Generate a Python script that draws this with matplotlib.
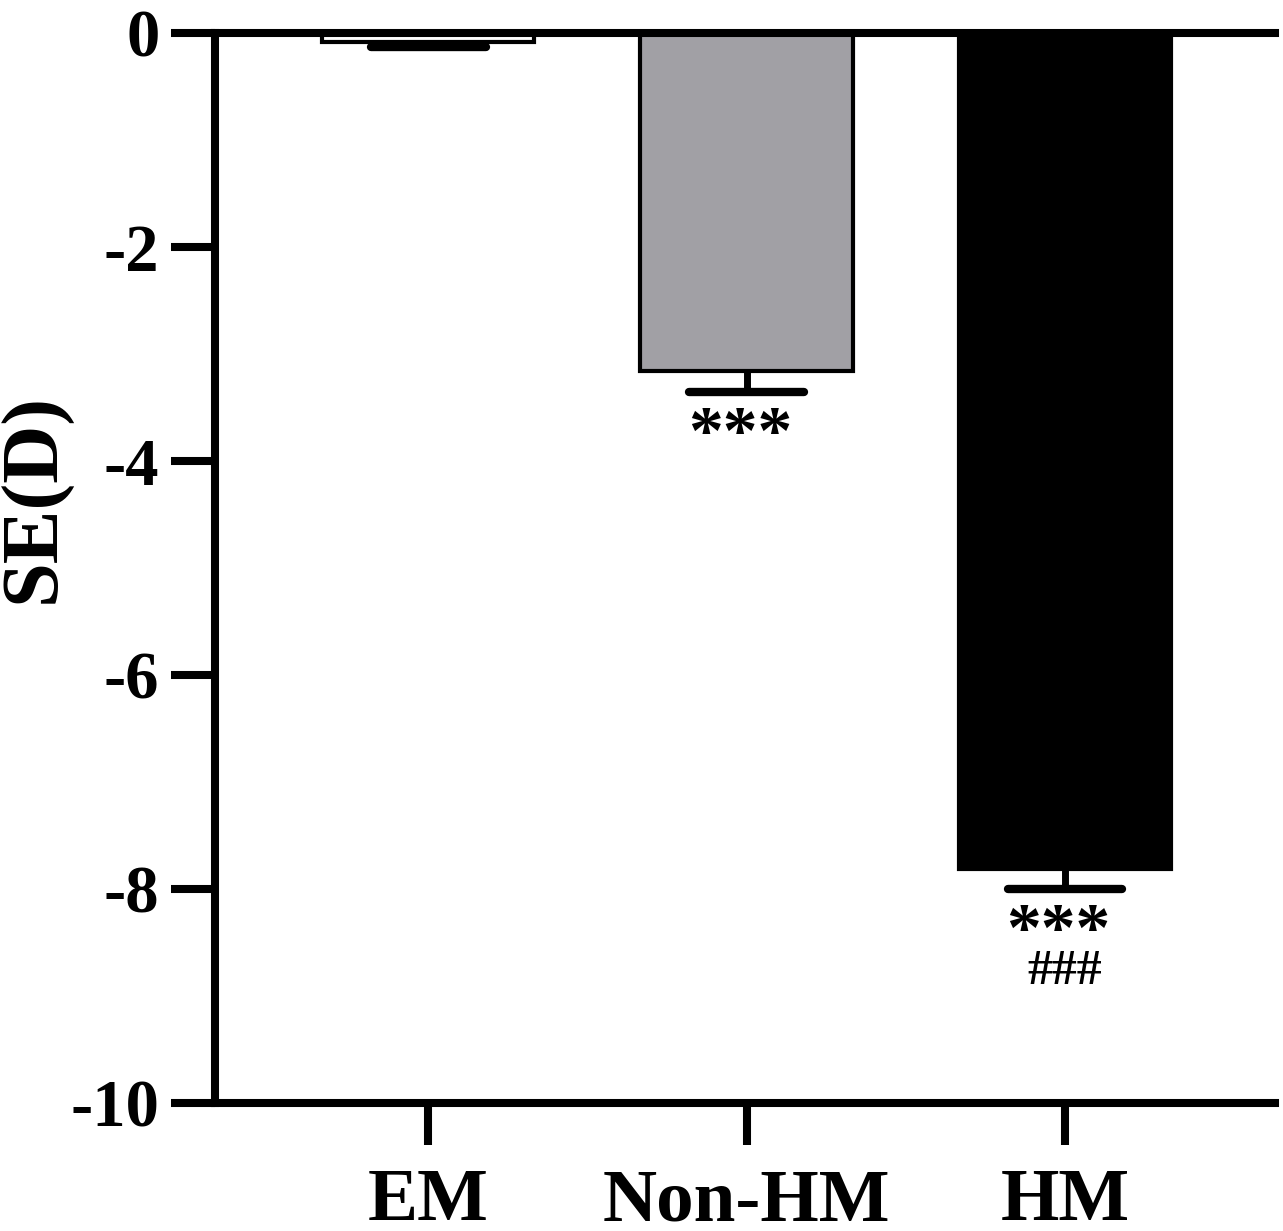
import matplotlib.pyplot as plt
import numpy as np

# values
groups = ['EM', 'Non-HM', 'HM']
means = [-0.08, -3.16, -7.81]
errs = [0.05, 0.19, 0.19]
bar_colors = ['white', '#a1a0a5', 'black']
marks = ['', '***', '***']
marks2 = ['', '', '###']

plt.rcParams['font.family'] = ['Liberation Serif', 'DejaVu Serif']
plt.rcParams['font.weight'] = 'bold'
plt.rcParams['axes.unicode_minus'] = False

fig = plt.figure(figsize=(12.83, 12.31), dpi=100)
ax = fig.add_axes([0.1676, 0.104, 0.8262, 0.869])

x = np.arange(len(groups))
means = np.array(means)
errs = np.array(errs)
ax.bar(x, means, width=0.667, color=bar_colors, edgecolor='black', linewidth=3, zorder=2)

# lower error bars only (stem + cap)
ax.vlines(x, means, means - errs, color='black', linewidth=5, zorder=3)
caps = ax.hlines(means - errs, x - 0.18, x + 0.18, color='black', linewidth=6, zorder=3)
caps.set_capstyle('round')

for i in range(len(groups)):
    if marks[i]:
        ax.text(x[i] - 0.02, means[i] - errs[i] - 0.42, marks[i], ha='center', va='center',
                fontsize=50, fontweight='bold')
    if marks2[i]:
        ax.text(x[i], means[i] - errs[i] - 0.78, marks2[i], ha='center', va='center',
                fontsize=36, fontweight='bold')

ax.set_xlim(-0.67, 2.66)
ax.set_ylim(-10, 0)
ax.set_yticks([0, -2, -4, -6, -8, -10])
ax.set_xticks(x)
ax.set_xticklabels(groups, fontsize=54, fontweight='bold')
ax.tick_params(axis='y', labelsize=48, width=5.8, length=32, pad=8)
ax.tick_params(axis='x', width=5.8, length=30, pad=17)
ax.set_ylabel('SE(D)', fontsize=58, fontweight='bold')
ax.yaxis.set_label_coords(-0.135, 0.566)

ax.spines['right'].set_visible(False)
for s in ['left', 'top', 'bottom']:
    ax.spines[s].set_linewidth(5.8)
ax.spines['top'].set_zorder(4)

fig.savefig('out.png', dpi=100)
